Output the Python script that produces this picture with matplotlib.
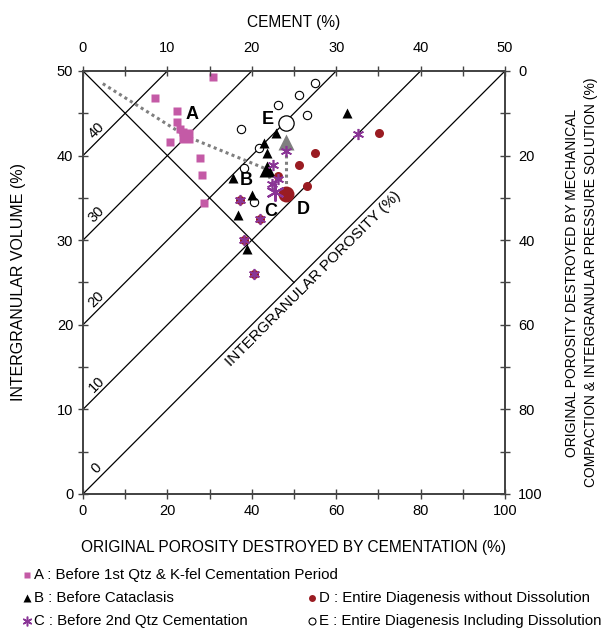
import numpy as np
import matplotlib
matplotlib.use("Agg")
import matplotlib.pyplot as plt
from matplotlib.lines import Line2D

plt.rcParams["font.family"] = ["Liberation Sans", "DejaVu Sans"]
plt.rcParams["font.size"] = 9.5

# ---------------------------------------------------------------------------
# Data (x = porosity destroyed by cementation, y = intergranular volume)
# ---------------------------------------------------------------------------
A_x = [30.7, 17.1, 22.3, 22.3, 23.0, 20.6, 27.7, 28.1, 28.7, 23.6, 24.0]
A_y = [49.3, 46.8, 45.3, 44.0, 43.2, 41.6, 39.7, 37.7, 34.4, 42.8, 42.6]
A_mean = (24.4, 42.3)

B_x = [62.5, 45.7, 42.9, 43.7, 35.5, 40.1, 36.7, 38.9]
B_y = [45.0, 42.7, 41.5, 40.3, 37.3, 35.3, 33.0, 28.9]
B_mean = (43.5, 38.4)

C_x = [65.2, 48.1, 45.0, 46.3, 37.2, 41.9, 38.2, 40.6, 44.8]
C_y = [42.6, 40.5, 38.9, 37.2, 34.8, 32.5, 30.0, 26.0, 36.6]
C_mean = (45.5, 35.7)

D_x = [70.2, 55.0, 51.3, 46.3, 53.0, 37.2, 41.9, 38.2, 40.6]
D_y = [42.7, 40.3, 38.9, 37.6, 36.4, 34.8, 32.5, 30.0, 26.0]
D_mean = (48.1, 35.5)

E_x = [55.0, 51.2, 46.3, 53.2, 37.4, 41.8, 38.2, 40.5]
E_y = [48.6, 47.2, 46.0, 44.8, 43.1, 40.9, 38.5, 34.5]
E_mean = (48.1, 43.9)
E_gray = (48.1, 41.6)

path_x = [4.7, A_mean[0], B_mean[0], C_mean[0]]
path_y = [48.5, A_mean[1], B_mean[1], C_mean[1]]

iso_levels = [0, 10, 20, 30, 40]

PINK = "#c45aa6"
RED = "#9a1c22"
PURPLE = "#8a3596"
GRAY = "#7f7f7f"
AXC = "#444444"

fig = plt.figure(figsize=(6.11, 6.32), dpi=100)
ax = fig.add_axes([0.1358, 0.2184, 0.6907, 0.6693])
ax.set_xlim(0, 100)
ax.set_ylim(0, 50)

# iso-cement lines  y = x/2 + c
for c in iso_levels:
    x_end = min(100, (50 - c) * 2)
    ax.plot([0, x_end], [c, c + x_end / 2], color="black", lw=0.9, zorder=1)
    ax.text(3.2, c + 3.0, str(c), rotation=45, ha="center", va="center",
            fontsize=10.5, zorder=2)
# intergranular porosity axis
ax.plot([0, 50], [50, 25], color="black", lw=0.9, zorder=1)
ax.text(54.6, 25.4, "INTERGRANULAR POROSITY (%)", rotation=45,
        rotation_mode="anchor", ha="center", va="center", fontsize=11)

# gray dotted paths
ax.plot(path_x, path_y, color=GRAY, lw=2.2, ls=(0, (1, 1.1)), zorder=2)
ax.plot([E_gray[0], D_mean[0]], [E_gray[1], D_mean[1]], color=GRAY, lw=2.2,
        ls=(0, (1, 1.1)), zorder=2)

# markers
ax.plot(A_x, A_y, "s", color=PINK, ms=5.8, mec="none", zorder=3)
ax.plot(*A_mean, "s", color=PINK, ms=10, mec="none", zorder=3)
ax.plot(E_x, E_y, "o", mfc="white", mec="black", mew=0.8, ms=6, zorder=3)
ax.plot(*E_mean, "o", mfc="white", mec="black", mew=0.9, ms=11, zorder=3)
ax.plot(D_x, D_y, "o", color=RED, ms=6.5, mec="none", zorder=4)
ax.plot(*D_mean, "o", color=RED, ms=11.5, mec="none", zorder=4)
ax.plot(B_x, B_y, "^", color="black", ms=7, mec="none", zorder=5)
ax.plot(*B_mean, "^", color="black", ms=11.5, mec="none", zorder=5)
ax.plot(*E_gray, "^", color=GRAY, ms=12, mec="none", zorder=5)
ax.plot(C_x, C_y, marker=(6, 2, 0), ls="none", color=PURPLE, ms=8,
        mew=1.2, zorder=6)
ax.plot(*C_mean, marker=(6, 2, 0), ls="none", color=PURPLE, ms=13,
        mew=1.5, zorder=6)

# point group letters
for lab, (lx, ly) in {"A": (25.8, 44.8), "B": (38.8, 37.0), "C": (44.6, 33.4),
                      "D": (52.2, 33.6), "E": (43.9, 44.3)}.items():
    ax.text(lx, ly, lab, fontsize=13, fontweight="bold", ha="center",
            va="center", zorder=7)

# axes, ticks
for sp in ax.spines.values():
    sp.set_color(AXC)
    sp.set_linewidth(1.1)
ax.set_xticks(np.arange(0, 101, 20))
ax.set_xticks(np.arange(10, 100, 20), minor=True)
ax.set_yticks(np.arange(0, 51, 10))
ax.set_yticks(np.arange(5, 50, 10), minor=True)
ax.tick_params(which="both", direction="inout", length=7, width=1,
               color=AXC, labelsize=10.5)
ax.set_xlabel("ORIGINAL POROSITY DESTROYED BY CEMENTATION (%)", fontsize=11.2,
              labelpad=16)
ax.set_ylabel("INTERGRANULAR VOLUME (%)", fontsize=11.5, labelpad=22)

axt = ax.twiny()
axt.set_xlim(0, 50)
axt.set_xticks(np.arange(0, 51, 10))
axt.set_xticks(np.arange(5, 50, 10), minor=True)
axt.tick_params(which="both", direction="inout", length=7, width=1,
                color=AXC, labelsize=10.5, pad=8)
axt.set_xlabel("CEMENT (%)", fontsize=11.2, labelpad=10)

axr = ax.twinx()
axr.set_ylim(100, 0)
axr.set_yticks(np.arange(0, 101, 20))
axr.set_yticks(np.arange(10, 100, 20), minor=True)
axr.tick_params(which="both", direction="inout", length=7, width=1,
                color=AXC, labelsize=10.5, pad=6)
axr.set_ylabel("ORIGINAL POROSITY DESTROYED BY MECHANICAL\n"
               "COMPACTION & INTERGRANULAR PRESSURE SOLUTION (%)",
               fontsize=10, labelpad=16, linespacing=1.45)
for a in (axt, axr):
    for sp in a.spines.values():
        sp.set_color(AXC)
        sp.set_linewidth(1.1)

# legend block
leg_items = [
    ("s", dict(color=PINK, ms=5, mec="none"),
     "A : Before 1st Qtz & K-fel Cementation Period", 0.044, 0.090),
    ("^", dict(color="black", ms=6, mec="none"),
     "B : Before Cataclasis", 0.044, 0.054),
    ((6, 2, 0), dict(color=PURPLE, ms=7, mew=1.1),
     "C : Before 2nd Qtz Cementation", 0.044, 0.018),
    ("o", dict(color=RED, ms=5, mec="none"),
     "D : Entire Diagenesis without Dissolution", 0.511, 0.054),
    ("o", dict(mfc="white", mec="black", ms=5, mew=0.8),
     "E : Entire Diagenesis Including Dissolution", 0.511, 0.018),
]
for m, kw, txt, fx, fy in leg_items:
    fig.add_artist(Line2D([fx], [fy], marker=m, ls="none",
                          transform=fig.transFigure, **kw))
    fig.text(fx + 0.011, fy, txt, ha="left", va="center", fontsize=10.8)

fig.savefig("out.png", dpi=100)
